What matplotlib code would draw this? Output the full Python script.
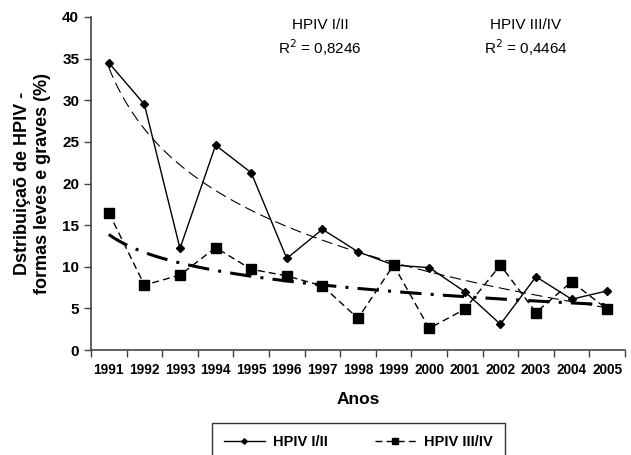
import numpy as np
import matplotlib.pyplot as plt
from matplotlib.ticker import FixedLocator, NullFormatter, FixedFormatter

plt.rcParams['font.family'] = ['Liberation Sans', 'DejaVu Sans']

# Data
years = ['1991', '1992', '1993', '1994', '1995', '1996', '1997', '1998',
         '1999', '2000', '2001', '2002', '2003', '2004', '2005']
hpiv_12 = [34.5, 29.5, 12.2, 24.6, 21.3, 11.0, 14.5, 11.8, 10.2, 9.9, 7.0, 3.1, 8.8, 6.1, 7.1]
hpiv_34 = [16.5, 7.8, 9.0, 12.3, 9.7, 8.9, 7.7, 3.8, 10.2, 2.6, 4.9, 10.2, 4.5, 8.2, 4.9]

x = np.arange(1, len(years) + 1)

# logarithmic trend lines (as in Excel)
def log_trend(vals):
    b, a = np.polyfit(np.log(x), vals, 1)
    xs = np.linspace(1, len(years), 200)
    return xs, a + b * np.log(xs)

fig = plt.figure(figsize=(6.31, 4.55), dpi=100)
ax = fig.add_axes([91/631, 1 - 350/455, (625 - 91)/631, (350 - 17)/455])

ax.plot(x, hpiv_12, color='black', lw=1.0, marker='D', markersize=4, label='HPIV I/II')
ax.plot(x, hpiv_34, color='black', lw=1.0, ls=(0, (5, 3)), marker='s', markersize=6.5,
        label='HPIV III/IV')

tx, ty = log_trend(hpiv_12)
ax.plot(tx, ty, color='black', lw=0.8, ls=(0, (10, 5)))
tx, ty = log_trend(hpiv_34)
ax.plot(tx, ty, color='black', lw=2.2, ls=(0, (7, 3, 1, 3)))

ax.set_xlim(0.5, len(years) + 0.5)
ax.set_ylim(0, 40)
ax.set_yticks(range(0, 41, 5))
ax.xaxis.set_major_locator(FixedLocator(np.arange(0.5, len(years) + 1, 1)))
ax.xaxis.set_major_formatter(NullFormatter())
ax.xaxis.set_minor_locator(FixedLocator(x))
ax.xaxis.set_minor_formatter(FixedFormatter(years))
ax.tick_params(axis='x', which='minor', length=0, pad=9)
ax.tick_params(axis='x', which='major', length=5, width=1, color='#444444')
ax.tick_params(axis='y', length=5, width=1, color='#444444')
for lab in ax.get_xticklabels(minor=True):
    lab.set_fontweight('bold')
    lab.set_fontsize(9.8)
for lab in ax.get_yticklabels():
    lab.set_fontweight('bold')
    lab.set_fontsize(11)

for s in ['top', 'right']:
    ax.spines[s].set_visible(False)
for s in ['left', 'bottom']:
    ax.spines[s].set_color('#444444')
    ax.spines[s].set_linewidth(1.2)

ax.set_ylabel('Dstribuiçaõ de HPIV -\nformas leves e graves (%)', fontsize=13,
              fontweight='bold', labelpad=8, linespacing=1.25)
ax.set_xlabel('Anos', fontsize=12.5, fontweight='bold', labelpad=11)

ax.text(6.93, 39.0, 'HPIV I/II', ha='center', va='center', fontsize=11)
ax.text(6.93, 36.3, 'R$^2$ = 0,8246', ha='center', va='center', fontsize=11)
ax.text(12.72, 39.0, 'HPIV III/IV', ha='center', va='center', fontsize=11)
ax.text(12.72, 36.3, 'R$^2$ = 0,4464', ha='center', va='center', fontsize=11)

leg = fig.legend(loc='upper center', bbox_to_anchor=(358.5/631, 1 - 423/455), ncol=2,
                 frameon=True, fancybox=False, edgecolor='black', handlelength=2.8,
                 handletextpad=0.6, columnspacing=3.2, borderpad=0.8,
                 borderaxespad=0, prop={'weight': 'bold', 'size': 10.5}, markerscale=0.7)
leg.get_frame().set_linewidth(1.0)

fig.savefig('out.png', dpi=100)
